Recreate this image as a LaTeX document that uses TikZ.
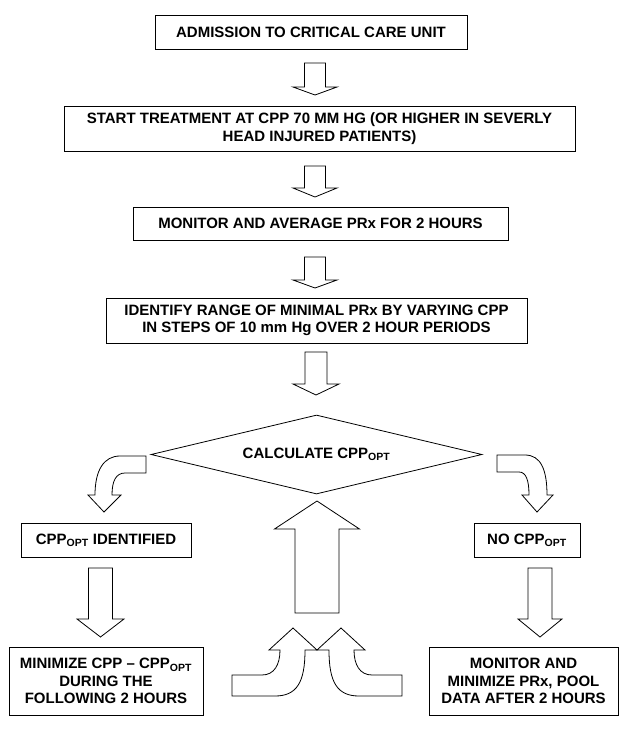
\documentclass[tikz,border=0pt]{standalone}
\usepackage{fontspec}
\setmainfont{Liberation Sans}
\usepackage{tikz}
\usetikzlibrary{shapes.geometric}

\newcommand{\opt}{\textsubscript{OPT}}
\newcommand{\downblock}[6]{%
	\draw[blockarrow] (#1-#5,#2) -- (#1+#5,#2) -- (#1+#5,#3) -- (#1+#6,#3)
		-- (#1,#4) -- (#1-#6,#3) -- (#1-#5,#3) -- cycle;}

\begin{document}
\begin{tikzpicture}[
		x=1pt, y=-1pt,
		box/.style={draw, rectangle, line width=0.8pt, inner sep=0pt, align=center,
			font=\fontsize{15}{17.5}\selectfont\bfseries},
		blockarrow/.style={draw, line width=0.8pt, fill=white, line join=miter}
		]
		\useasboundingbox (0,0) rectangle (625,732);
		\node[box, minimum width=312, minimum height=34] (admission) at (311,32) {ADMISSION TO CRITICAL CARE UNIT};
		\node[box, minimum width=511, minimum height=45] (start) at (319.5,128.5)
			{START TREATMENT AT CPP 70 MM HG (OR HIGHER IN SEVERLY\\HEAD INJURED PATIENTS)};
		\node[box, minimum width=375, minimum height=33] (monitor) at (320.5,223.5) {MONITOR AND AVERAGE PRx FOR 2 HOURS};
		\node[box, minimum width=421, minimum height=45] (identify) at (316.5,320.5)
			{IDENTIFY RANGE OF MINIMAL PRx BY VARYING CPP\\IN STEPS OF 10 mm Hg OVER 2 HOUR PERIODS};
		\node[box, diamond, shape aspect=4.2, minimum width=331, minimum height=79] (calc) at (316.5,454.5) {CALCULATE CPP\opt};
		\node[box, minimum width=170, minimum height=34] (found) at (106,540) {CPP\opt{} IDENTIFIED};
		\node[box, minimum width=106, minimum height=34] (nocpp) at (527,540) {NO CPP\opt};
		\node[box, minimum width=194, minimum height=68] (minimize) at (106,681)
			{MINIMIZE CPP -- CPP\opt\\DURING THE\\FOLLOWING 2 HOURS};
		\node[box, minimum width=189, minimum height=68] (pool) at (523.5,681)
			{MONITOR AND\\MINIMIZE PRx, POOL\\DATA AFTER 2 HOURS};

		\downblock{315}{63}{87}{95}{10.5}{22}
		\downblock{315}{166}{188}{197}{10.5}{22}
		\downblock{315}{257}{280}{288}{10.5}{22}
		\downblock{316}{352}{384}{395}{11}{23}
		\downblock{317}{613}{529}{501}{22}{42.5}
		\downblock{100.5}{568}{619}{637}{12}{23.5}
		\downblock{540}{568}{619}{637}{12}{22}

		\draw[blockarrow] (146,456) -- (120,456) .. controls (104,456) and (95,470) .. (95,495)
			-- (88,495) -- (104,512) -- (121,495) -- (112,495)
			.. controls (112,481) and (116,473) .. (125,473) -- (146,473) -- cycle;
		\draw[blockarrow] (497,455) -- (525,455) .. controls (541,455) and (547,470) .. (547,495)
			-- (553,495) -- (537,512) -- (522,495) -- (529,495)
			.. controls (529,480) and (526,472) .. (519,472) -- (497,472) -- cycle;
		\draw[blockarrow] (232,675) -- (262,675) .. controls (274,675) and (280,665) .. (280,650)
			-- (269,650) -- (293,628) -- (317,650) -- (305,650)
			.. controls (305,682) and (297,696) .. (275,696) -- (232,696) -- cycle;
		\draw[blockarrow] (402,675) -- (372,675) .. controls (360,675) and (354,665) .. (354,650)
			-- (365,650) -- (341,628) -- (317,650) -- (329,650)
			.. controls (329,682) and (337,696) .. (359,696) -- (402,696) -- cycle;
\end{tikzpicture}
\end{document}
